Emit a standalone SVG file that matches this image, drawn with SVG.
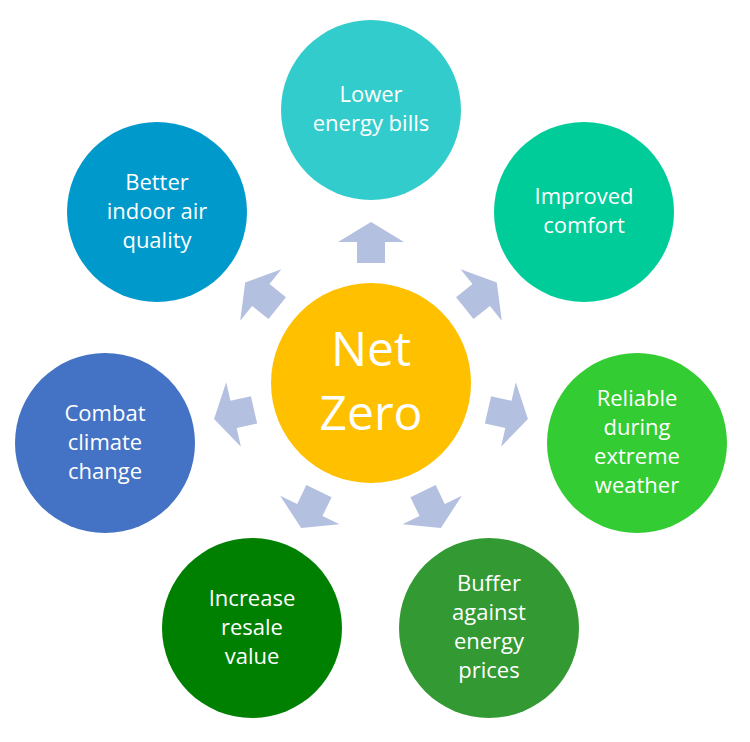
<svg xmlns="http://www.w3.org/2000/svg" width="750" height="742" viewBox="0 0 750 742">
<style>
text{font-family:"Open Sans","Liberation Sans",sans-serif;fill:#fff;text-anchor:middle}
.o{font-size:22px}
.arr{fill:#B4C0E0}
</style>
<defs><polygon id="a" points="0,-161 33,-141 14,-141 14,-120 -14,-120 -14,-141 -33,-141"/></defs>
<rect width="750" height="742" fill="#fff"/>
<g id="connectors" class="arr">
<use href="#a" transform="translate(371,383)"/>
<use href="#a" transform="translate(371,383) rotate(51.4)"/>
<use href="#a" transform="translate(371,383) rotate(102.9)"/>
<use href="#a" transform="translate(371,383) rotate(154.3)"/>
<use href="#a" transform="translate(371,383) rotate(205.7)"/>
<use href="#a" transform="translate(371,383) rotate(257.1)"/>
<use href="#a" transform="translate(371,383) rotate(308.6)"/>
</g>
<g id="center"><circle cx="371" cy="383" r="100" fill="#FFC000"/>
<text x="371" y="366" font-size="48">Net</text><text x="371" y="430" font-size="48">Zero</text></g>
<g id="n1"><circle cx="371" cy="110" r="90" fill="#33CCCC"/>
<text class="o" x="371" y="102">Lower</text><text class="o" x="371" y="131">energy bills</text></g>
<g id="n2"><circle cx="584" cy="212" r="90" fill="#00CC99"/>
<text class="o" x="584" y="204">Improved</text><text class="o" x="584" y="233">comfort</text></g>
<g id="n3"><circle cx="637" cy="443" r="90" fill="#33CC33"/>
<text class="o" x="637" y="406">Reliable</text><text class="o" x="637" y="435">during</text><text class="o" x="637" y="464">extreme</text><text class="o" x="637" y="493">weather</text></g>
<g id="n4"><circle cx="489" cy="628" r="90" fill="#339933"/>
<text class="o" x="489" y="591">Buffer</text><text class="o" x="489" y="620">against</text><text class="o" x="489" y="649">energy</text><text class="o" x="489" y="678">prices</text></g>
<g id="n5"><circle cx="252" cy="628" r="90" fill="#008000"/>
<text class="o" x="252" y="606">Increase</text><text class="o" x="252" y="635">resale</text><text class="o" x="252" y="664">value</text></g>
<g id="n6"><circle cx="105" cy="443" r="90" fill="#4472C4"/>
<text class="o" x="105" y="421">Combat</text><text class="o" x="105" y="450">climate</text><text class="o" x="105" y="479">change</text></g>
<g id="n7"><circle cx="157" cy="212" r="90" fill="#0099CC"/>
<text class="o" x="157" y="190">Better</text><text class="o" x="157" y="219">indoor air</text><text class="o" x="157" y="248">quality</text></g>
</svg>
